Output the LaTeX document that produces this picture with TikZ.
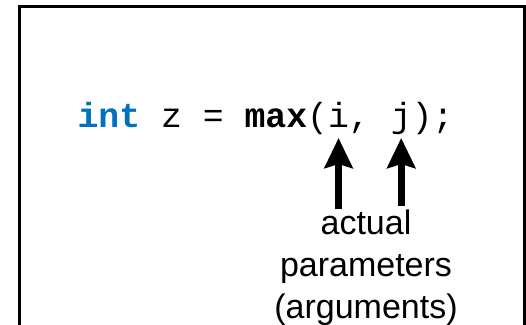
\documentclass[tikz,border=0pt]{standalone}
\usepackage{fontspec}
\newfontfamily\codefont{Liberation Mono}
\newfontfamily\labelfont{Liberation Sans}
\usetikzlibrary{arrows.meta, positioning}
\definecolor{kwblue}{RGB}{0,112,192}

\begin{document}
\begin{tikzpicture}[
  x=1pt, y=-1pt,
  code/.style={inner sep=0pt, outer sep=0pt, anchor=base west,
               font=\codefont\fontsize{34.8}{40}\selectfont, text depth=0pt},
  argarrow/.style={-{Stealth[length=30pt, width=28pt, inset=4pt]}, line width=7pt},
]
\useasboundingbox (0,0) rectangle (526,324);
\clip (0,0) rectangle (526,324);

%% frame
\draw[line width=3.5pt] (19.5,340) -- (19.5,6.5) -- (524.5,6.5) -- (524.5,340);

%% call line
\node[code] (decl) at (77.5,127)
  {\textcolor{kwblue}{\textbf{int}} z = \textbf{max}(};
\node[code] (argi) at (decl.base east) {i};
\node[code] (sep)  at (argi.base east) {,\phantom{x}};
\node[code] (argj) at (sep.base east) {j};
\node[code] (tail) at (argj.base east) {);};

%% label
\node[anchor=north, align=center, inner sep=0pt,
      font=\labelfont\fontsize{34}{42}\selectfont] (lbl) at (366,210)
  {actual\\parameters\\(arguments)};

%% arrows
\draw[argarrow] ([yshift=1pt]lbl.north -| argi) -- ([yshift=-11pt]argi.south);
\draw[argarrow] ([yshift=4pt]lbl.north -| argj) -- ([yshift=-11pt]argj.south);

\end{tikzpicture}
\end{document}
